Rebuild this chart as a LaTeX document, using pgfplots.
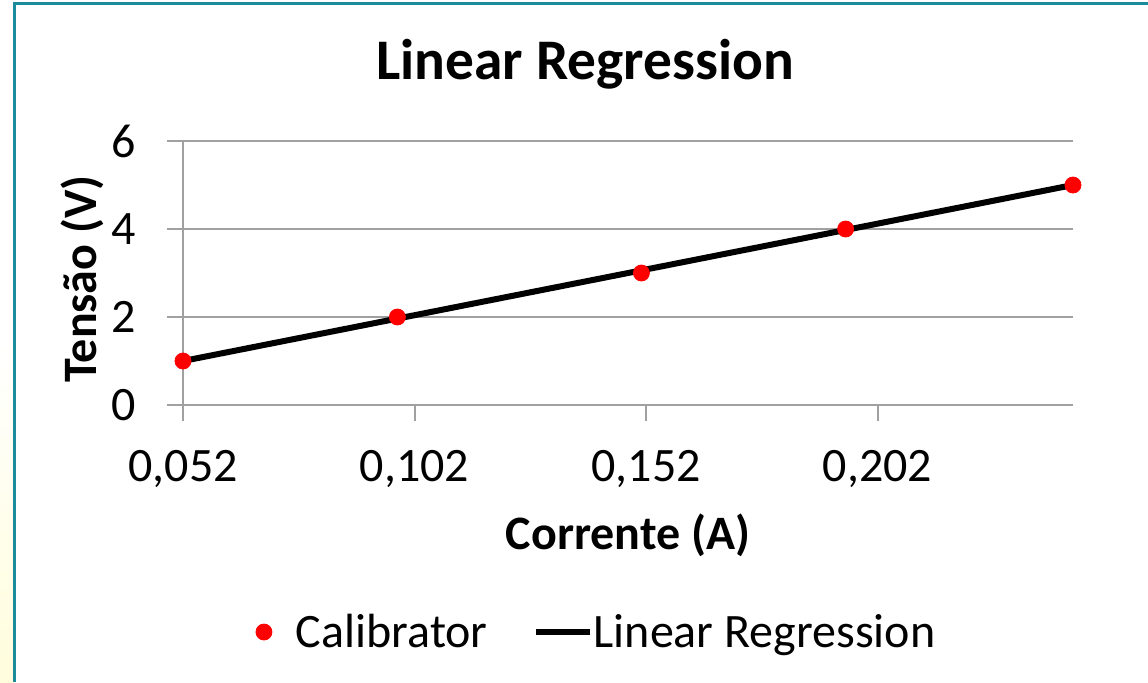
\documentclass[border=0pt]{standalone}
\usepackage{pgfplots}
\pgfplotsset{compat=1.18}
\usepackage{fontspec}
\setmainfont{Carlito}
\definecolor{frameteal}{HTML}{1C8C9C}
\definecolor{gridgray}{HTML}{A0A0A0}
\definecolor{paleyellow}{HTML}{FFFDDC}
\begin{document}
\begin{tikzpicture}[x=0.5pt,y=0.5pt]
\path[use as bounding box] (0,0) rectangle (1148,682);
\fill[white] (0,0) rectangle (1148,682);
\shade[top color=white, bottom color=paleyellow] (0,0) rectangle (14,340);
\draw[frameteal, line width=1.5pt] (14,0) -- (14,678) -- (1148,678);
\coordinate (axorigin) at (183,277);
\begin{axis}[
  at={(axorigin)}, anchor=south west,
  scale only axis, width=445pt, height=132pt,
  xmin=0.052, xmax=0.2442, ymin=0, ymax=6,
  axis lines*=left,
  axis line style={gridgray, line width=1pt},
  xtick={0.052,0.102,0.152,0.202},
  xticklabels={{0,052},{0,102},{0,152},{0,202}},
  ytick={0,2,4,6},
  yticklabels={0,2,4,6},
  ymajorgrids,
  grid style={gridgray, line width=1pt},
  tick style={gridgray, line width=1pt},
  tick align=outside,
  major tick length=8pt,
  font=\fontsize{24}{29}\selectfont,
  ticklabel style={font=\fontsize{24}{29}\selectfont},
  yticklabel style={anchor=east, xshift=-12pt},
  xticklabel style={anchor=north, yshift=-11pt},
  title={\textbf{Linear Regression}},
  title style={font=\fontsize{28.7}{34}\selectfont, at={(axis description cs:0.4517,1.246)}, anchor=center},
  xlabel={\textbf{Corrente (A)}},
  xlabel style={font=\fontsize{24}{29}\selectfont, at={(axis description cs:0.5,-0.4924)}, anchor=center},
  ylabel={\textbf{Tensão (V)}},
  ylabel style={font=\fontsize{24}{29}\selectfont, at={(axis description cs:-0.1135,0.477)}, anchor=center, rotate=0},
  legend style={draw=none, fill=none, at={(axis description cs:0.4657,-0.86)}, anchor=center,
    font=\fontsize{24}{29}\selectfont, legend columns=2,
    /tikz/every even column/.append style={column sep=22pt}},
  clip=false,
]
\addplot[only marks, mark=*, mark size=4pt, color=red, mark options={fill=red, draw=red},
  legend image code/.code={\fill[red, draw=red] (0pt,0pt) circle (4pt); \path[draw=none, fill=none] (0pt,0pt) -- (14pt,0pt);}]
  coordinates {(0.052,1) (0.0983,2) (0.151,3) (0.1951,4) (0.2442,5)};
\addlegendentry{Calibrator}
\addplot[no marks, black, line width=3pt,
  legend image code/.code={\draw[overlay, black, line width=3pt] (0pt,0pt) -- (27pt,0pt); \path[draw=none, fill=none] (0pt,-1.5pt) rectangle (27pt,1.5pt);}]
  coordinates {(0.052,1.0) (0.0983,1.964) (0.151,3.060) (0.1951,3.978) (0.2442,5.0)};
\addlegendentry{Linear Regression}
\end{axis}
\end{tikzpicture}
\end{document}
